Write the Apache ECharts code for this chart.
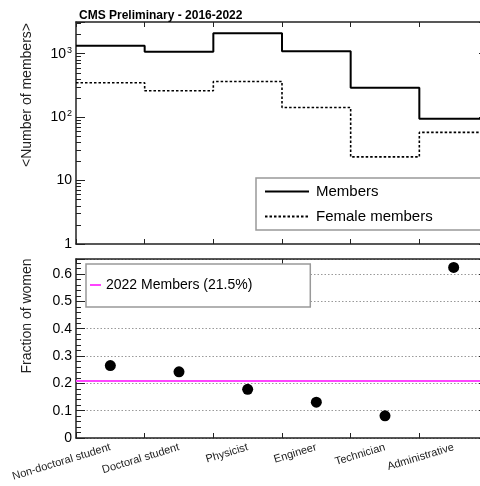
<!DOCTYPE html>
<html><head><meta charset="utf-8">
<script src="https://cdn.jsdelivr.net/npm/echarts@6/dist/echarts.min.js"></script>
<style>html,body{margin:0;padding:0;background:#fff}#c{width:480px;height:486px}</style>
</head><body><div id="c"></div><script>
const categories = ['Non-doctoral student','Doctoral student','Physicist','Engineer','Technician','Administrative'];
const members = [1340, 1075, 2110, 1090, 290, 94];
const femaleMembers = [348, 260, 365, 142, 23.6, 57.5];
const fractionWomen = [0.265, 0.242, 0.178, 0.131, 0.081, 0.624];
const overallFraction2022 = 0.215;
const logTickLabels = {1: '1', 10: '10', 100: '10{sup|2}', 1000: '10{sup|3}'};
const fractionTicks = [0, 0.1, 0.2, 0.3, 0.4, 0.5, 0.6];

const FONT = '"Liberation Sans", Arial, Helvetica, sans-serif';
const INK = '#222';

function stepData(vals) {
  const d = vals.map((v, i) => [i, v]);
  d.push([vals.length, vals[vals.length - 1]]);
  return d;
}

const frameLine = {show: true, onZero: false, lineStyle: {color: INK, width: 1.5}};
const logLabel = {
  show: true, fontSize: 14, color: '#000', fontFamily: FONT, margin: 4, lineHeight: 16,
  formatter: v => logTickLabels[Math.round(v)] ?? '',
  rich: {sup: {fontSize: 9, fontFamily: FONT, color: '#000', verticalAlign: 'top', lineHeight: 9, padding: [0, 0, 6, 1]}}
};

function logAxis(pos, withLabel) {
  return {
    type: 'log', logBase: 10, gridIndex: 0, min: 1, max: 3162, position: pos,
    axisLine: frameLine,
    axisTick: {show: true, inside: true, length: 9, lineStyle: {color: INK, width: 1}},
    minorTick: {show: true, splitNumber: 9, length: 5, lineStyle: {color: INK, width: 1}},
    axisLabel: withLabel ? logLabel : {show: false},
    splitLine: {show: false}
  };
}
function fracAxis(pos, withLabel) {
  return {
    type: 'value', gridIndex: 1, min: 0, max: 0.655, interval: 0.1, position: pos,
    axisLine: frameLine,
    axisTick: {show: true, inside: true, length: 9, lineStyle: {color: INK, width: 1}},
    minorTick: {show: true, splitNumber: 5, length: 5, lineStyle: {color: INK, width: 1}},
    axisLabel: withLabel ? {show: true, fontSize: 14, color: '#000', fontFamily: FONT, margin: 4,
      showMaxLabel: false,
      formatter: v => fractionTicks.some(t => Math.abs(t - v) < 1e-6) ? String(Math.round(v * 10) / 10) : ''} : {show: false},
    splitLine: withLabel ? {show: true, lineStyle: {color: '#999', type: [1.5, 2], width: 1}} : {show: false}
  };
}

const option = {
  animation: false,
  backgroundColor: '#fff',
  textStyle: {fontFamily: FONT},
  title: {text: 'CMS Preliminary - 2016-2022', left: 74, top: 5,
    textStyle: {fontSize: 12, fontWeight: 'bold', color: '#000', fontFamily: FONT}},
  grid: [
    {left: 76, top: 22, width: 412, height: 222, containLabel: false, outerBoundsMode: 'none'},
    {left: 76, top: 259, width: 412, height: 179, containLabel: false, outerBoundsMode: 'none'}
  ],
  xAxis: [
    {type: 'value', gridIndex: 0, min: 0, max: categories.length, interval: 1, position: 'bottom',
      axisLine: frameLine, axisTick: {show: true, inside: true, length: 5, lineStyle: {color: INK}},
      axisLabel: {show: false}, splitLine: {show: false}},
    {type: 'value', gridIndex: 0, min: 0, max: categories.length, interval: 1, position: 'top',
      axisLine: frameLine, axisTick: {show: true, inside: true, length: 5, lineStyle: {color: INK}},
      axisLabel: {show: false}, splitLine: {show: false}},
    {type: 'category', gridIndex: 1, data: categories, boundaryGap: true, position: 'bottom',
      axisLine: frameLine, axisTick: {show: true, inside: true, length: 5, lineStyle: {color: INK}},
      axisLabel: {show: true, interval: 0, rotate: 17, fontSize: 11, color: '#222', fontFamily: FONT, margin: 9},
      splitLine: {show: false}},
    {type: 'category', gridIndex: 1, data: categories, boundaryGap: true, position: 'top',
      axisLine: frameLine, axisTick: {show: true, inside: true, length: 5, lineStyle: {color: INK}},
      axisLabel: {show: false}, splitLine: {show: false}}
  ],
  yAxis: [
    logAxis('left', true),
    logAxis('right', false),
    fracAxis('left', true),
    fracAxis('right', false)
  ],
  legend: [
    {data: ['Members', 'Female members'], orient: 'vertical', left: 256, top: 178,
      padding: [6, 140, 6, 8], itemGap: 10, itemWidth: 44, itemHeight: 14,
      backgroundColor: '#fff', borderColor: '#999', borderWidth: 1.5, borderRadius: 0,
      itemStyle: {opacity: 0},
      selectedMode: false, textStyle: {fontSize: 15, color: '#000', fontFamily: FONT, padding: [0, 0, 0, 2]}},
    {data: ['2022 Members (21.5%)'], orient: 'vertical', left: 86, top: 264,
      padding: [14, 58, 15, 3], itemWidth: 11, itemHeight: 14,
      backgroundColor: '#fff', borderColor: '#999', borderWidth: 1.5, borderRadius: 0,
      itemStyle: {opacity: 0},
      selectedMode: false, textStyle: {fontSize: 14, color: '#000', fontFamily: FONT}}
  ],
  graphic: [
    {type: 'text', x: 27, y: 95, rotation: Math.PI / 2,
      style: {text: '<Number of members>', fontSize: 14, fontFamily: FONT, fill: '#222', align: 'center', verticalAlign: 'middle'}},
    {type: 'text', x: 27, y: 316, rotation: Math.PI / 2,
      style: {text: 'Fraction of women', fontSize: 14, fontFamily: FONT, fill: '#222', align: 'center', verticalAlign: 'middle'}}
  ],
  series: [
    {name: 'Members', type: 'line', xAxisIndex: 0, yAxisIndex: 0, step: 'end',
      data: stepData(members), symbol: 'none', color: '#000',
      lineStyle: {color: '#000', width: 2, type: 'solid'}, z: 3},
    {name: 'Female members', type: 'line', xAxisIndex: 0, yAxisIndex: 0, step: 'end',
      data: stepData(femaleMembers), symbol: 'none', color: '#000',
      lineStyle: {color: '#000', width: 1.6, type: [2.5, 2]}, z: 3},
    {name: '2022 Members (21.5%)', type: 'line', xAxisIndex: 2, yAxisIndex: 2,
      data: [], symbol: 'none', color: '#ff44ff',
      lineStyle: {color: '#ff44ff', width: 2},
      markLine: {silent: true, symbol: 'none', label: {show: false},
        lineStyle: {color: '#ff44ff', width: 2, type: 'solid'},
        data: [{yAxis: overallFraction2022}]}, z: 4},
    {name: 'Fraction', type: 'scatter', xAxisIndex: 2, yAxisIndex: 2,
      data: fractionWomen, symbol: 'circle', symbolSize: 11,
      itemStyle: {color: '#000', opacity: 1}, z: 5}
  ]
};
const chart = echarts.init(document.getElementById('c'), null, {renderer: 'canvas'});
chart.setOption(option);
</script></body></html>
